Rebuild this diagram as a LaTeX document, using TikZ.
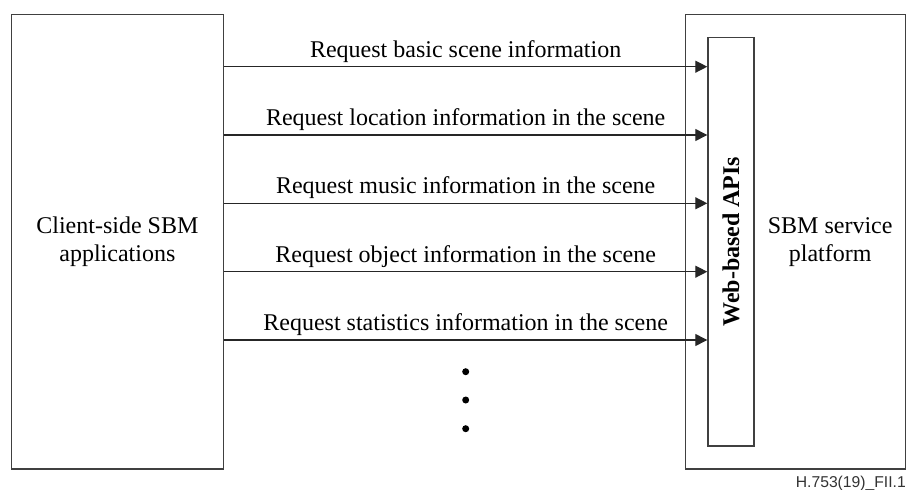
\documentclass[tikz,border=0pt]{standalone}
\usepackage{fontspec}
\setmainfont{Liberation Serif}
\newfontfamily\lsans{Liberation Sans}
\usetikzlibrary{arrows.meta,calc}
\begin{document}
\begin{tikzpicture}[x=1pt,y=-1pt,
  box/.style={draw=black!75, line width=1.3pt, anchor=north west, inner sep=0pt, align=center,
    font=\fontsize{24}{28}\selectfont},
  arr/.style={draw=black!85, line width=1.3pt, -{Triangle[length=12pt,width=12pt]}},
  lbl/.style={anchor=base, yshift=9.5pt, inner sep=0pt, font=\fontsize{24}{28}\selectfont},
  dot/.style={circle, fill=black, inner sep=0pt, minimum size=7pt}]
\useasboundingbox (0,0) rectangle (906,490);
\node[box, minimum width=212pt, minimum height=454.3pt] (client) at (10.7,14) {Client-side SBM\\applications};
\node[box, minimum width=219.5pt, minimum height=454.3pt] (platform) at (685,14) {};
\node[box, minimum width=46pt, minimum height=408.6pt] (api) at (707.3,36.7) {};
\node[rotate=90, font=\fontsize{24}{28}\selectfont\bfseries, inner sep=0pt] (apitext) at (api.center) {Web-based APIs};
\node[align=center, inner sep=0pt, font=\fontsize{24}{28}\selectfont] (ptext) at ($(api.east)!0.5!(platform.east)$) {SBM service\\platform};
\coordinate (y1) at (0,66.7);
\coordinate (y2) at (0,135);
\coordinate (y3) at (0,203.3);
\coordinate (y4) at (0,271.7);
\coordinate (y5) at (0,340);
\draw[arr] (client.east |- y1) -- node[lbl] {Request basic scene information} (api.west |- y1);
\draw[arr] (client.east |- y2) -- node[lbl] {Request location information in the scene} (api.west |- y2);
\draw[arr] (client.east |- y3) -- node[lbl] {Request music information in the scene} (api.west |- y3);
\draw[arr] (client.east |- y4) -- node[lbl] {Request object information in the scene} (api.west |- y4);
\draw[arr] (client.east |- y5) -- node[lbl] {Request statistics information in the scene} (api.west |- y5);
\node[dot] (d1) at (465.7,371.7) {};
\node[dot] (d2) at (465.7,400) {};
\node[dot] (d3) at (465.7,428.7) {};
\node[anchor=base east, inner sep=0pt, font=\lsans\fontsize{15.7}{18}\selectfont, text=black!80] (fig) at (906,487) {H.753(19)\_FII.1};
\end{tikzpicture}
\end{document}
